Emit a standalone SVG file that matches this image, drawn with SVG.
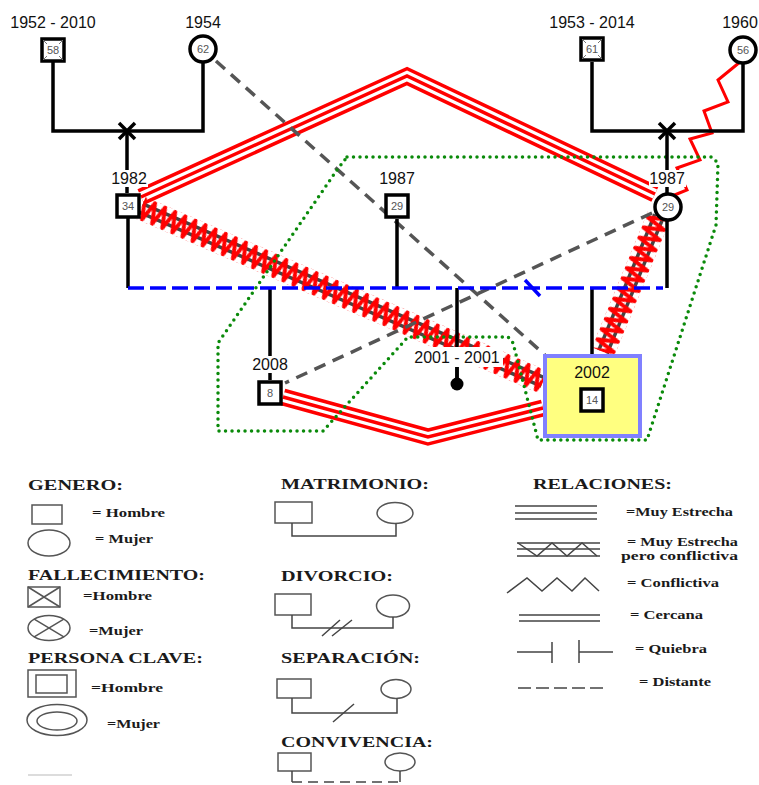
<svg xmlns="http://www.w3.org/2000/svg" width="759" height="785" viewBox="0 0 759 785">
<defs>
<pattern id="zz" patternUnits="userSpaceOnUse" x="0" y="-12" width="11" height="24">
<path d="M-5.5,22 L0,2 L5.5,22 L11,2 L16.5,22" fill="none" stroke="#ff0000" stroke-width="4" stroke-linejoin="round"/>
</pattern>
</defs>
<style>
.lbl{font-family:"Liberation Sans",Arial,sans-serif;font-size:16px;fill:#111;text-anchor:middle}
.num{font-family:"Liberation Sans",Arial,sans-serif;font-size:11px;fill:#555;text-anchor:middle}
.nd{fill:#fff;stroke:#000;stroke-width:3.5}
.fam{fill:none;stroke:#000;stroke-width:3.5}
.tri1{fill:none;stroke:#ff0000;stroke-width:17}
.tri2{fill:none;stroke:#fff;stroke-width:10}
.tri3{fill:none;stroke:#ff0000;stroke-width:3.5}
.g2{stroke:#444;stroke-width:3.5}
.dist{fill:none;stroke:#555;stroke-width:3.5;stroke-dasharray:12 8}
.bg{fill:#fff}
.leg{font-family:"Liberation Serif","Times New Roman",serif;font-weight:bold;fill:#1a1a1a}
.lh{font-size:15px}
.li{font-size:13px}
.ls{fill:none;stroke:#555;stroke-width:1.5}
.lr{fill:none;stroke:#444;stroke-width:1.5}
</style>

<g id="connectors">
  <g id="rel-34-29">
    <path class="tri1" d="M141,197 L407,76 L655,194"/>
    <path class="tri2" d="M141,197 L407,76 L655,194"/>
    <path class="tri3" d="M141,197 L407,76 L655,194"/>
  </g>
  <g id="rel-8-14">
    <path class="tri1" d="M283,397 L428,437 L543,408"/>
    <path class="tri2" d="M283,397 L428,437 L543,408"/>
    <path class="tri3" d="M283,397 L428,437 L543,408"/>
  </g>
  <g id="rel-34-14" transform="translate(141,208) rotate(23.4)">
    <line class="g2" x1="0" y1="-4.5" x2="438" y2="-4.5"/>
    <line class="g2" x1="0" y1="4.5" x2="438" y2="4.5"/>
    <rect x="0" y="-12" width="438" height="24" fill="url(#zz)"/>
  </g>
  <g id="rel-29-14" transform="translate(659,216) rotate(112.4)">
    <line class="g2" x1="0" y1="-4.5" x2="147" y2="-4.5"/>
    <line class="g2" x1="0" y1="4.5" x2="147" y2="4.5"/>
    <rect x="0" y="-12" width="147" height="24" fill="url(#zz)"/>
  </g>
  <polyline id="rel-56-29" points="740,62 718,80 728,102 704,111 712,133 690,139 700,160 677,168 687,190 672,196" fill="none" stroke="#ff0000" stroke-width="3"/>
  <path class="dist" d="M216,61 L545,355"/>
  <path class="dist" d="M652,213 L285,383"/>
  <path d="M347,157 H712 L718,163 L716,225 L647,440 H538 L513,343 L508,337 H408 L323,431 H218 V343 L337,170 Z" fill="none" stroke="#0a8a0a" stroke-width="3.5" stroke-linecap="round" stroke-dasharray="0 6.5"/>
  <path class="fam" d="M53,62 V131 H203 V63"/>
  <path class="fam" d="M127,131 V193"/>
  <path class="fam" d="M119,123 L135,139 M135,123 L119,139"/>
  <path class="fam" d="M592,62 V131 H743 V64"/>
  <path class="fam" d="M667,131 V193"/>
  <path class="fam" d="M659,123 L675,139 M675,123 L659,139"/>
  <path class="fam" d="M128,218 V288 M667,221 V288 M270,288 V380 M397,288 V219 M457,288 V380 M592,288 V354"/>
  <path d="M128,288 H663" fill="none" stroke="#0000ff" stroke-width="3.5" stroke-dasharray="16 6"/>
  <path d="M525,280 L540,296" stroke="#0000ff" stroke-width="3.5"/>
</g>

<g id="n58">
  <text class="lbl" x="53" y="28">1952 - 2010</text>
  <rect class="nd" x="42" y="39" width="22" height="22"/>
  <path d="M43,40 L63,60 M63,40 L43,60" stroke="#777" stroke-width="1"/>
  <rect class="bg" x="46" y="44" width="14" height="12"/>
  <text class="num" x="53" y="54">58</text>
</g>
<g id="n62">
  <text class="lbl" x="203" y="28">1954</text>
  <circle class="nd" cx="203" cy="49" r="13"/>
  <text class="num" x="203" y="53">62</text>
</g>
<g id="n61">
  <text class="lbl" x="592" y="28">1953 - 2014</text>
  <rect class="nd" x="581" y="38" width="22" height="22"/>
  <path d="M582,39 L602,59 M602,39 L582,59" stroke="#777" stroke-width="1"/>
  <rect class="bg" x="585" y="43" width="14" height="12"/>
  <text class="num" x="592" y="53">61</text>
</g>
<g id="n56">
  <text class="lbl" x="740" y="28">1960</text>
  <circle class="nd" cx="743" cy="50" r="13"/>
  <text class="num" x="743" y="54">56</text>
</g>
<g id="n34">
  <rect class="bg" x="110" y="170" width="38" height="17"/>
  <text class="lbl" x="129" y="184">1982</text>
  <rect class="nd" x="117" y="195" width="22" height="22"/>
  <text class="num" x="128" y="210">34</text>
</g>
<g id="n29m">
  <rect class="bg" x="378" y="170" width="38" height="17"/>
  <text class="lbl" x="397" y="184">1987</text>
  <rect class="nd" x="386" y="195" width="22" height="22"/>
  <text class="num" x="397" y="210">29</text>
</g>
<g id="n29f">
  <rect class="bg" x="649" y="170" width="37" height="17"/>
  <text class="lbl" x="667" y="184">1987</text>
  <circle class="nd" cx="668" cy="207" r="13"/>
  <text class="num" x="668" y="211">29</text>
</g>
<g id="n8">
  <rect class="bg" x="251" y="356" width="38" height="17"/>
  <text class="lbl" x="270" y="370">2008</text>
  <rect class="nd" x="259" y="382" width="22" height="22"/>
  <text class="num" x="270" y="397">8</text>
</g>
<g id="n2001">
  <rect class="bg" x="411" y="347" width="92" height="20"/>
  <text class="lbl" x="457" y="363">2001 - 2001</text>
  <path class="fam" d="M457,367 V380"/>
  <circle cx="457" cy="384" r="6.5" fill="#000"/>
</g>
<g id="n14">
  <rect x="545" y="356" width="95" height="80" fill="#ffff80" stroke="#8080ff" stroke-width="4"/>
  <text class="lbl" x="592" y="378">2002</text>
  <rect class="nd" x="581" y="389" width="22" height="22"/>
  <text class="num" x="592" y="404">14</text>
</g>

<g id="legend">
  <text class="leg lh" x="28" y="490" textLength="95" lengthAdjust="spacingAndGlyphs">GENERO:</text>
  <rect class="ls" x="32" y="505" width="30" height="19"/>
  <text class="leg li" x="92" y="517" textLength="73" lengthAdjust="spacingAndGlyphs">= Hombre</text>
  <ellipse class="ls" cx="49" cy="543" rx="21" ry="13"/>
  <text class="leg li" x="95" y="543" textLength="58" lengthAdjust="spacingAndGlyphs">= Mujer</text>

  <text class="leg lh" x="28" y="580" textLength="177" lengthAdjust="spacingAndGlyphs">FALLECIMIENTO:</text>
  <rect class="ls" x="28" y="587" width="32" height="20"/>
  <path class="ls" d="M28,587 L60,607 M60,587 L28,607"/>
  <text class="leg li" x="83" y="600" textLength="69" lengthAdjust="spacingAndGlyphs">=Hombre</text>
  <ellipse class="ls" cx="49" cy="628" rx="21" ry="12.5"/>
  <path class="ls" d="M34.2,619.2 L63.8,636.8 M63.8,619.2 L34.2,636.8"/>
  <text class="leg li" x="89" y="635" textLength="54" lengthAdjust="spacingAndGlyphs">=Mujer</text>

  <text class="leg lh" x="28" y="663" textLength="175" lengthAdjust="spacingAndGlyphs">PERSONA CLAVE:</text>
  <rect class="ls" x="28" y="670" width="48" height="27"/>
  <rect class="ls" x="36" y="675" width="31" height="18"/>
  <text class="leg li" x="91" y="692" textLength="72" lengthAdjust="spacingAndGlyphs">=Hombre</text>
  <ellipse class="ls" cx="57" cy="720" rx="30" ry="15.5"/>
  <ellipse class="ls" cx="57" cy="721" rx="20" ry="9"/>
  <text class="leg li" x="107" y="728" textLength="53" lengthAdjust="spacingAndGlyphs">=Mujer</text>
  <line x1="28" y1="775" x2="72" y2="775" stroke="#d0d0d0" stroke-width="1.5"/>

  <text class="leg lh" x="281" y="489" textLength="148" lengthAdjust="spacingAndGlyphs">MATRIMONIO:</text>
  <rect class="ls" x="275" y="502" width="37" height="21"/>
  <ellipse class="ls" cx="395" cy="513" rx="18" ry="10.5"/>
  <path class="lr" d="M292,523 V536 H396 V523.5"/>

  <text class="leg lh" x="281" y="581" textLength="112" lengthAdjust="spacingAndGlyphs">DIVORCIO:</text>
  <rect class="ls" x="275" y="594" width="36" height="21"/>
  <ellipse class="ls" cx="393" cy="606" rx="16.5" ry="11"/>
  <path class="lr" d="M292,615 V628 H393 V617"/>
  <path class="lr" d="M322,636 L340,620 M332,636 L352,620"/>

  <text class="leg lh" x="281" y="663" textLength="139" lengthAdjust="spacingAndGlyphs">SEPARACIÓN:</text>
  <rect class="ls" x="277" y="679" width="34" height="19"/>
  <ellipse class="ls" cx="396" cy="689" rx="15" ry="9.5"/>
  <path class="lr" d="M292,698 V713 H397 V698.5"/>
  <path class="lr" d="M333,722 L354,704"/>

  <text class="leg lh" x="281" y="747" textLength="152" lengthAdjust="spacingAndGlyphs">CONVIVENCIA:</text>
  <rect class="ls" x="278" y="753" width="33" height="18"/>
  <ellipse class="ls" cx="400" cy="762" rx="15" ry="9"/>
  <path class="lr" d="M292,771 V782 M400,771 V782"/>
  <path class="lr" d="M292,782 H402" stroke-dasharray="10 6"/>

  <text class="leg lh" x="533" y="489" textLength="139" lengthAdjust="spacingAndGlyphs">RELACIONES:</text>
  <path class="lr" d="M515,506 H597 M515,513 H597 M515,519 H597"/>
  <text class="leg li" x="626" y="516" textLength="107" lengthAdjust="spacingAndGlyphs">=Muy Estrecha</text>
  <path class="lr" d="M517,543 H600 M517,549 H600 M517,556 H600"/>
  <polyline class="lr" points="518,543 537,556 552,543 567,556 582,543 597,556"/>
  <text class="leg li" x="627" y="546" textLength="111" lengthAdjust="spacingAndGlyphs">= Muy Estrecha</text>
  <text class="leg li" x="621" y="560" textLength="117" lengthAdjust="spacingAndGlyphs">pero conflictiva</text>
  <polyline class="lr" points="507,593 527,578 542,591 557,578 572,591 585,578 599,591"/>
  <text class="leg li" x="627" y="587" textLength="92" lengthAdjust="spacingAndGlyphs">= Conflictiva</text>
  <path class="lr" d="M519,615 H600 M519,621 H600"/>
  <text class="leg li" x="630" y="619" textLength="73" lengthAdjust="spacingAndGlyphs">= Cercana</text>
  <path class="lr" d="M517,652 H552 M552,642 V663 M579,640 V663 M579,652 H613"/>
  <text class="leg li" x="635" y="653" textLength="72" lengthAdjust="spacingAndGlyphs">= Quiebra</text>
  <path class="lr" d="M518,688 H606" stroke-dasharray="13 5"/>
  <text class="leg li" x="639" y="686" textLength="72" lengthAdjust="spacingAndGlyphs">= Distante</text>
</g>
</svg>
